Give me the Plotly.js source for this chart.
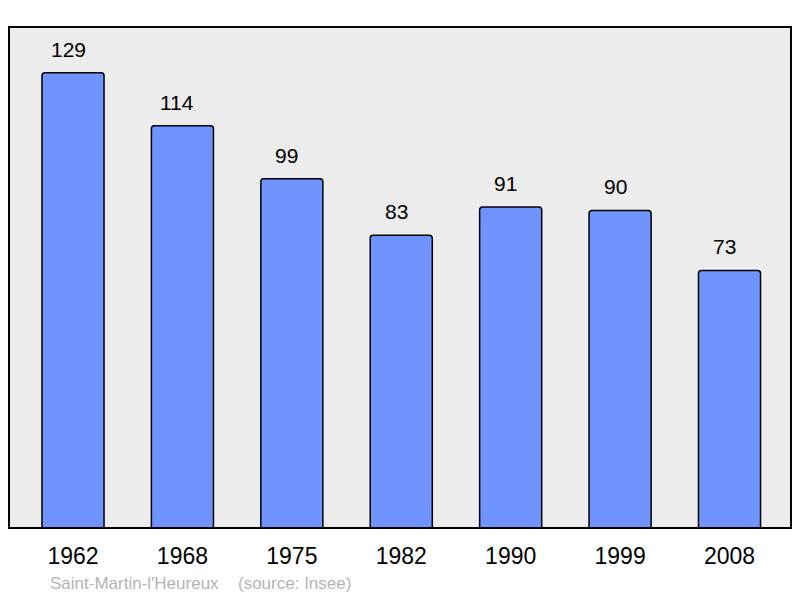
<!DOCTYPE html>
<html>
<head>
<meta charset="utf-8">
<script src="https://cdn.plot.ly/plotly-3.0.1.min.js"></script>
<style>html,body{margin:0;padding:0;background:#fff;}#chart{width:800px;height:598px;}</style>
</head>
<body>
<div id="chart"></div>
<script>
const years = ["1962", "1968", "1975", "1982", "1990", "1999", "2008"];
const population = [129, 114, 99, 83, 91, 90, 73];
const commune = "Saint-Martin-l'Heureux";
const source = "(source: Insee)";

const idx = years.map((_, i) => i);
const FONT = "'Liberation Sans', Arial, sans-serif";

const trace = {
  type: "bar",
  x: idx,
  y: population,
  width: 0.567,
  marker: { color: "#7094ff", line: { color: "#000000", width: 1.5 }, cornerradius: 3 },
  hoverinfo: "skip"
};

const annotations = idx.map((i) => ({
  x: i, y: population[i], xref: "x", yref: "y",
  text: String(population[i]),
  showarrow: false, yanchor: "bottom", xanchor: "center",
  xshift: -5, yshift: 10,
  font: { family: FONT, size: 21, color: "#000000" }
}));
annotations.push({
  xref: "paper", yref: "paper", x: (48 - 9) / 782, y: 0, xanchor: "left", yanchor: "top",
  yshift: -44, showarrow: false, text: commune,
  font: { family: FONT, size: 17, color: "#b4b4b4" }
});
annotations.push({
  xref: "paper", yref: "paper", x: (236 - 9) / 782, y: 0, xanchor: "left", yanchor: "top",
  yshift: -44, showarrow: false, text: source,
  font: { family: FONT, size: 17, color: "#b4b4b4" }
});

const layout = {
  width: 800, height: 598,
  margin: { l: 9, r: 9, t: 27, b: 70, pad: 0 },
  paper_bgcolor: "#ffffff",
  plot_bgcolor: "#ececec",
  showlegend: false,
  xaxis: {
    range: [-0.585, 6.562],
    tickmode: "array", tickvals: idx, ticktext: years,
    showgrid: false, zeroline: false, showline: false,
    ticks: "", ticklabelstandoff: 12,
    tickfont: { family: FONT, size: 23, color: "#000000" },
    fixedrange: true
  },
  yaxis: {
    range: [0, 142],
    showgrid: false, zeroline: false, showline: false,
    showticklabels: false, ticks: "", fixedrange: true
  },
  shapes: [{
    type: "rect", xref: "paper", yref: "paper", x0: 0, x1: 1, y0: 0, y1: 1,
    line: { color: "#000000", width: 2 }, fillcolor: "rgba(0,0,0,0)", layer: "above"
  }],
  annotations: annotations
};

Plotly.newPlot("chart", [trace], layout, { displayModeBar: false, staticPlot: true });
</script>
</body>
</html>
